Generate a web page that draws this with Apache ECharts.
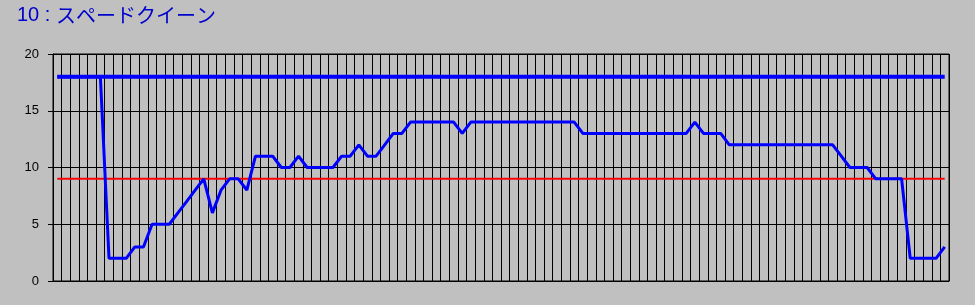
<!DOCTYPE html>
<html>
<head>
<meta charset="utf-8">
<script src="https://cdn.jsdelivr.net/npm/echarts@6/dist/echarts.min.js"></script>
<style>
html,body{margin:0;padding:0;background:#c0c0c0;}
#c{width:975px;height:305px;}
</style>
</head>
<body>
<div id="c"></div>
<script>
var titleNumber = "10 : ";
var titleName = "スペードクイーン";
var categories = ["1","2","3","4","5","6","7","8","9","10","11","12","13","14","15","16","17","18","19","20",
"21","22","23","24","25","26","27","28","29","30","31","32","33","34","35","36","37","38","39","40",
"41","42","43","44","45","46","47","48","49","50","51","52","53","54","55","56","57","58","59","60",
"61","62","63","64","65","66","67","68","69","70","71","72","73","74","75","76","77","78","79","80",
"81","82","83","84","85","86","87","88","89","90","91","92","93","94","95","96","97","98","99","100",
"101","102","103","104"];
var mainValues = [18,18,18,18,18,18,2,2,2,3,3,5,5,5,6,7,8,9,6,8,
9,9,8,11,11,11,10,10,11,10,10,10,10,11,11,12,11,11,12,13,
13,14,14,14,14,14,14,13,14,14,14,14,14,14,14,14,14,14,14,14,
14,13,13,13,13,13,13,13,13,13,13,13,13,13,14,13,13,13,12,12,
12,12,12,12,12,12,12,12,12,12,12,11,10,10,10,9,9,9,9,2,
2,2,2,3];
var upperValues = [18,18,18,18,18,18,18,18,18,18,18,18,18,18,18,18,18,18,18,18,
18,18,18,18,18,18,18,18,18,18,18,18,18,18,18,18,18,18,18,18,
18,18,18,18,18,18,18,18,18,18,18,18,18,18,18,18,18,18,18,18,
18,18,18,18,18,18,18,18,18,18,18,18,18,18,18,18,18,18,18,18,
18,18,18,18,18,18,18,18,18,18,18,18,18,18,18,18,18,18,18,18,
18,18,18,18];
var refValues = [9,9,9,9,9,9,9,9,9,9,9,9,9,9,9,9,9,9,9,9,
9,9,9,9,9,9,9,9,9,9,9,9,9,9,9,9,9,9,9,9,
9,9,9,9,9,9,9,9,9,9,9,9,9,9,9,9,9,9,9,9,
9,9,9,9,9,9,9,9,9,9,9,9,9,9,9,9,9,9,9,9,
9,9,9,9,9,9,9,9,9,9,9,9,9,9,9,9,9,9,9,9,
9,9,9,9];
var yTicks = {min: 0, max: 20, interval: 5};

var chart = echarts.init(document.getElementById('c'), null, {renderer: 'canvas'});
chart.setOption({
  backgroundColor: '#c0c0c0',
  animation: false,
  title: {
    text: '{a|' + titleNumber + '}{b|' + titleName + '}',
    left: 12, top: 0,
    textStyle: {
      color: '#0000cc', fontSize: 20, fontWeight: 'normal',
      rich: {
        a: {color: '#0000cc', fontSize: 20, fontFamily: 'Liberation Sans, Arial, sans-serif'},
        b: {color: '#0000cc', fontSize: 20, fontFamily: 'Noto Sans CJK JP, sans-serif'}
      }
    }
  },
  grid: {left: 53, right: 26, top: 54, bottom: 24, show: true, borderColor: '#000', borderWidth: 1, backgroundColor: 'transparent'},
  xAxis: {
    type: 'category', data: categories, boundaryGap: true,
    axisLine: {show: true, lineStyle: {color: '#000', width: 1}},
    axisTick: {show: false},
    axisLabel: {show: false},
    splitLine: {show: true, interval: 0, lineStyle: {color: '#000', width: 1}}
  },
  yAxis: {
    type: 'value', min: yTicks.min, max: yTicks.max, interval: yTicks.interval,
    axisLine: {show: true, lineStyle: {color: '#000', width: 1}},
    axisTick: {show: true, length: 5, lineStyle: {color: '#000'}},
    axisLabel: {color: '#000', fontSize: 13, margin: 14, fontFamily: 'Liberation Sans, Arial, sans-serif'},
    splitLine: {show: true, lineStyle: {color: '#000', width: 1}}
  },
  series: [
    {type: 'line', data: refValues, symbol: 'none', lineStyle: {color: '#ff0000', width: 2}, z: 2},
    {type: 'line', data: upperValues, symbol: 'none', lineStyle: {color: '#0000ff', width: 4}, z: 3},
    {type: 'line', data: mainValues, symbol: 'none', lineStyle: {color: '#0000ff', width: 3}, z: 4}
  ]
});
</script>
</body>
</html>
